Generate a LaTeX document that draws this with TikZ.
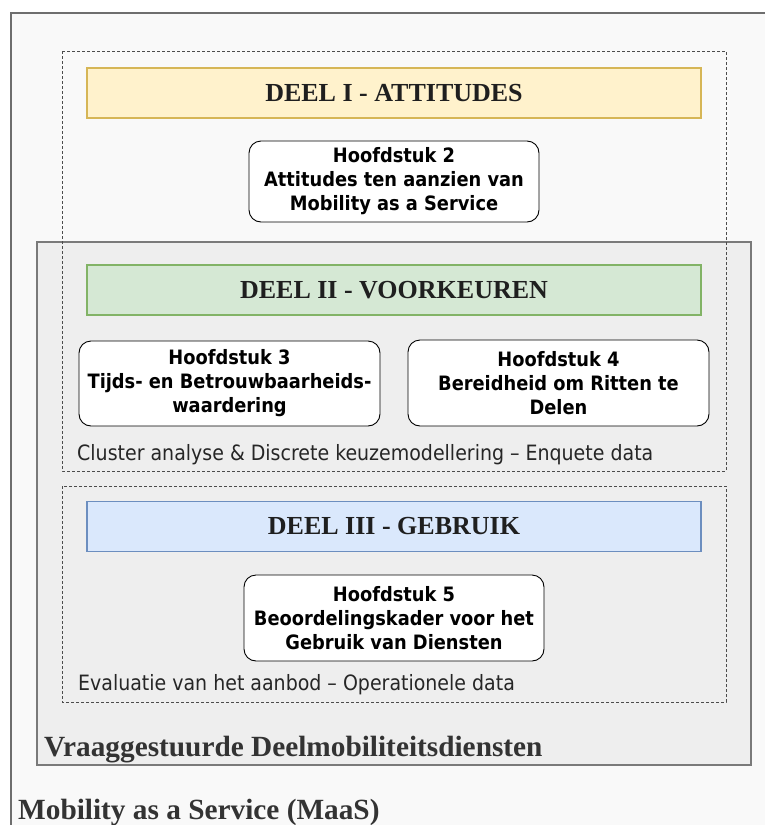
\documentclass[tikz,border=0pt]{standalone}
\usepackage{fontspec}
\setmainfont{Liberation Serif}
\newfontfamily\boxfont{DejaVu Sans Condensed}
\begin{document}
\begin{tikzpicture}[x=1pt,y=-1pt,
  outerframe/.style={draw=black!57,line width=2pt,fill=black!2.5},
  innerframe/.style={draw=black!52,line width=2pt,fill=black!6.5},
  partframe/.style={draw=black!70,line width=0.9pt,dash pattern=on 3pt off 2pt},
  banner/.style={rectangle,line width=1.6pt,minimum width=614pt,minimum height=50pt,
    font=\fontsize{26}{30}\selectfont\bfseries,text=black!88},
  chapter/.style={rectangle,rounded corners=12pt,draw=black,line width=0.9pt,fill=white,
    minimum height=84pt,align=center,inner sep=0pt,
    font=\boxfont\bfseries\fontsize{19.8}{24}\selectfont},
  note/.style={anchor=west,inner sep=0pt,font=\boxfont\fontsize{21.1}{24}\selectfont,text=black!85},
  caption/.style={anchor=west,inner sep=0pt,font=\fontsize{29.3}{34}\selectfont\bfseries,text=black!80}]
\useasboundingbox (0,0) rectangle (765,825);
\fill[white] (0,0) rectangle (765,825);
% outermost MaaS frame, running off the page to the right and bottom
\draw[outerframe] (11,13) rectangle (800,860);
% frame of the demand-driven shared mobility services
\draw[innerframe] (37,242) rectangle (751,765);
% dashed part frames
\draw[partframe] (62,51) rectangle (726,471);
\draw[partframe] (62,486) rectangle (726,702);
% part banners
\node[banner,draw={rgb,255:red,214;green,182;blue,86},fill={rgb,255:red,255;green,242;blue,204}]
  (deel1) at (394,93) {DEEL I - ATTITUDES};
\node[banner,draw={rgb,255:red,130;green,179;blue,102},fill={rgb,255:red,213;green,232;blue,212}]
  (deel2) at (394,290) {DEEL II - VOORKEUREN};
\node[banner,draw={rgb,255:red,108;green,142;blue,191},fill={rgb,255:red,218;green,232;blue,252}]
  (deel3) at (394,526.5) {DEEL III - GEBRUIK};
% chapters
\node[chapter,minimum width=290pt,minimum height=81pt] (h2) at (394,181.5)
  {Hoofdstuk 2\\Attitudes ten aanzien van\\Mobility as a Service};
\node[chapter,minimum width=301pt,minimum height=85pt] (h3) at (229.5,383.5)
  {Hoofdstuk 3\\Tijds- en Betrouwbaarheids-\\waardering};
\node[chapter,minimum width=301pt,minimum height=86pt] (h4) at (558.5,383)
  {Hoofdstuk 4\\Bereidheid om Ritten te\\Delen};
\node[chapter,minimum width=300pt,minimum height=86pt] (h5) at (394,618)
  {Hoofdstuk 5\\Beoordelingskader voor het\\Gebruik van Diensten};
% method notes
\node[note] (n1) at (77,455) {Cluster analyse \& Discrete keuzemodellering – Enquete data};
\node[note] (n2) at (78,685) {Evaluatie van het aanbod – Operationele data};
% frame captions
\node[caption] (c1) at (44,750) {Vraaggestuurde Deelmobiliteitsdiensten};
\node[caption] (c2) at (18,812) {Mobility as a Service (MaaS)};
\end{tikzpicture}
\end{document}
